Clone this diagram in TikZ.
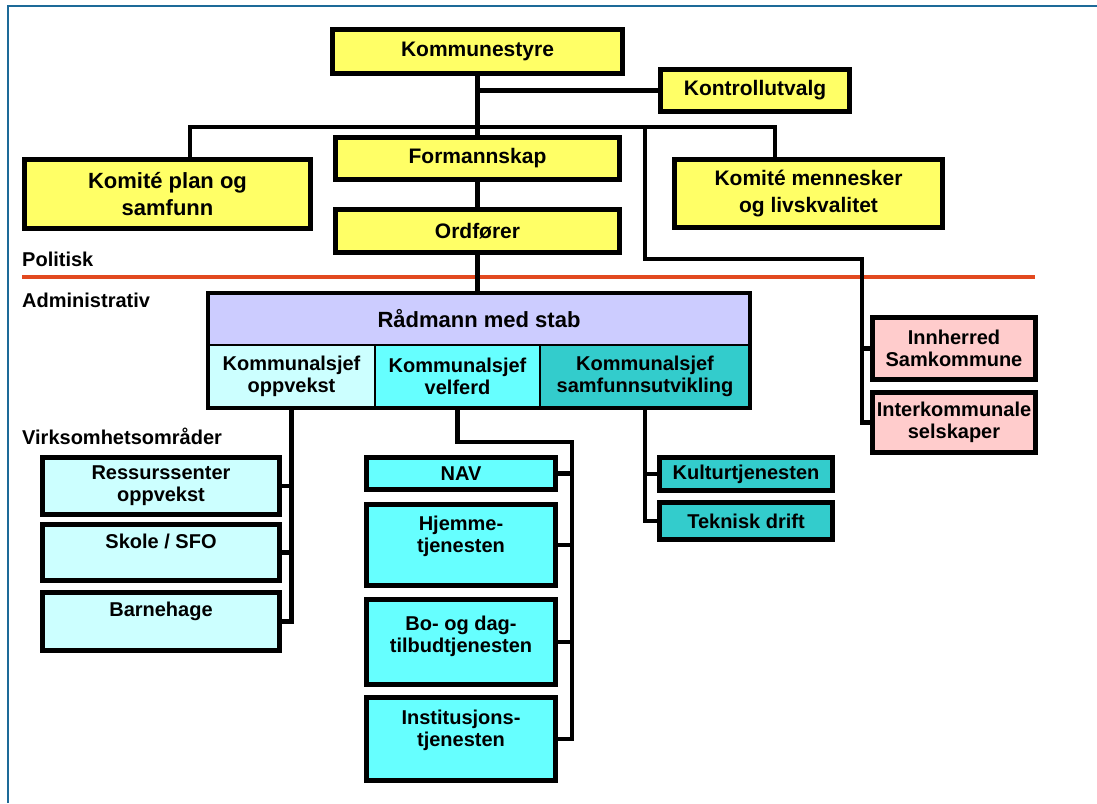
\documentclass[tikz,border=0pt]{standalone}
\usepackage{fontspec}
\setmainfont{Liberation Sans}
\usetikzlibrary{positioning,backgrounds}

\definecolor{politgul}{HTML}{FFFF66}
\definecolor{radlilla}{HTML}{CCCCFF}
\definecolor{oppvlys}{HTML}{CCFFFF}
\definecolor{velfcyan}{HTML}{66FFFF}
\definecolor{samfteal}{HTML}{33CCCC}
\definecolor{interrosa}{HTML}{FFCCCC}
\definecolor{skillerod}{HTML}{E2491F}
\definecolor{rammeblaa}{HTML}{1D6A98}

\tikzset{
  ybox/.style={draw=black, line width=4.5pt, fill=politgul, align=center, inner sep=1pt, outer sep=0pt,
    font=\bfseries\fontsize{21}{27}\selectfont},
  abox/.style={draw=black, line width=4.5pt, align=center, inner sep=1pt, outer sep=0pt,
    font=\bfseries\fontsize{20}{22}\selectfont},
  subbox/.style={draw=black, line width=1.2pt, align=center, inner sep=1pt, outer sep=0pt,
    font=\bfseries\fontsize{20}{22}\selectfont},
  txt/.style={align=center, inner sep=0pt, font=\bfseries\fontsize{20}{22}\selectfont},
  nivaa/.style={anchor=west, inner sep=0pt, font=\bfseries\fontsize{20}{22}\selectfont},
  link/.style={draw=black, line width=4.5pt, line join=miter}
}

\begin{document}
\begin{tikzpicture}[x=1pt, y=-1pt]

\useasboundingbox (0,0) rectangle (1097,803);

\draw[rammeblaa, line width=2.5pt] (8,803) -- (8,6) -- (1097,6);

% politisk
\node[ybox, minimum width=290, minimum height=44] (kst) at (477.5,51.5) {Kommunestyre};
\node[ybox, minimum width=189, minimum height=42] (kon) at (755,90.5) {Kontrollutvalg};
\node[ybox, minimum width=286, minimum height=69, font=\bfseries\fontsize{22}{27}\selectfont] (kpl) at (167.5,194) {Komité plan og\\samfunn};
\node[ybox, minimum width=284, minimum height=42] (frm) at (477.5,158.5) {Formannskap};
\node[ybox, minimum width=284, minimum height=43] (ord) at (477.5,231) {Ordfører};
\node[ybox, minimum width=268, minimum height=68] (kml) at (808.5,193.5) {Komité mennesker\\og livskvalitet};

\node[nivaa] (pol) at (22,259) {Politisk};
\node[nivaa] (adm) at (22,300) {Administrativ};
\node[nivaa] (virk) at (22,436) {Virksomhetsområder};

% administrativ
\node[subbox, draw=none, fill=radlilla, minimum width=542, minimum height=52,
      font=\bfseries\fontsize{22}{24}\selectfont] (rad) at (479,319) {Rådmann med stab};
\node[subbox, fill=oppvlys, minimum width=167, minimum height=63] (ksopp) at (291.5,376.5) {Kommunalsjef\\oppvekst};
\node[subbox, fill=velfcyan, minimum width=165, minimum height=63] (ksvel) at (457.5,376.5) {Kommunalsjef\\velferd};
\node[subbox, fill=samfteal, minimum width=210, minimum height=63] (kssam) at (645,376.5) {Kommunalsjef\\samfunnsutvikling};
\draw[black, line width=1.2pt] (rad.south west) -- (rad.south east);
\draw[black, line width=4.5pt] (rad.north west) rectangle (kssam.south east);

\node[abox, fill=interrosa, minimum width=163, minimum height=62] (inn) at (954,348.5) {Innherred\\Samkommune};
\node[abox, fill=interrosa, minimum width=163, minimum height=60] (iks) at (954,422.5) {Interkommunale\\selskaper};

% oppvekst
\node[abox, fill=oppvlys, minimum width=237, minimum height=57] (ress) at (161,486) {Ressurssenter\\oppvekst};
\node[abox, fill=oppvlys, minimum width=237, minimum height=56] (sko) at (161,552.5) {};
\node[abox, fill=oppvlys, minimum width=237, minimum height=58] (bhg) at (161,621.5) {};
\node[txt, below=9pt of sko.north] (skot) {Skole / SFO};
\node[txt, below=9pt of bhg.north] (bhgt) {Barnehage};

% velferd
\node[abox, fill=velfcyan, minimum width=189, minimum height=32] (nav) at (461,473.5) {NAV};
\node[abox, fill=velfcyan, minimum width=189, minimum height=81] (hje) at (461,545) {};
\node[abox, fill=velfcyan, minimum width=189, minimum height=85] (bod) at (461,642) {};
\node[abox, fill=velfcyan, minimum width=189, minimum height=83] (ins) at (461,739) {};
\node[txt, below=11pt of hje.north] (hjet) {Hjemme-\\tjenesten};
\node[txt, below=16pt of bod.north] (bodt) {Bo- og dag-\\tilbudtjenesten};
\node[txt, below=12pt of ins.north] (inst) {Institusjons-\\tjenesten};

% samfunnsutvikling
\node[abox, fill=samfteal, minimum width=173, minimum height=33] (kul) at (746,474) {Kulturtjenesten};
\node[abox, fill=samfteal, minimum width=173, minimum height=37] (tek) at (746,521) {Teknisk drift};

\coordinate (bar) at (190,127);
\coordinate (kmlx) at (775,127);
\coordinate (samx) at (645,127);
\coordinate (samy) at (862,259);
\coordinate (velx) at (572,442);

\begin{pgfonlayer}{background}
\draw[skillerod, line width=4.5pt] (22,277) -- (1035,277);

\draw[link] (kst.south) -- (kst.south |- rad.north);
\draw[link] (kst.south |- kon.west) -- (kon.west);
\draw[link] (bar |- kpl.north) -- (bar) -- (kmlx) -- (kmlx |- kml.north);
\draw[link] (samx) |- (samy) |- (iks.west);
\draw[link] (samy) |- (inn.west);

\draw[link] (ksopp.south) |- (bhg.east);
\draw[link] (ksopp.south) |- (ress.east);
\draw[link] (ksopp.south) |- (sko.east);

\draw[link] (ksvel.south) |- (velx) |- (ins.east);
\draw[link] (velx) |- (nav.east);
\draw[link] (velx) |- (hje.east);
\draw[link] (velx) |- (bod.east);

\draw[link] (kssam.south) |- (tek.west);
\draw[link] (kssam.south) |- (kul.west);
\end{pgfonlayer}

\end{tikzpicture}
\end{document}
